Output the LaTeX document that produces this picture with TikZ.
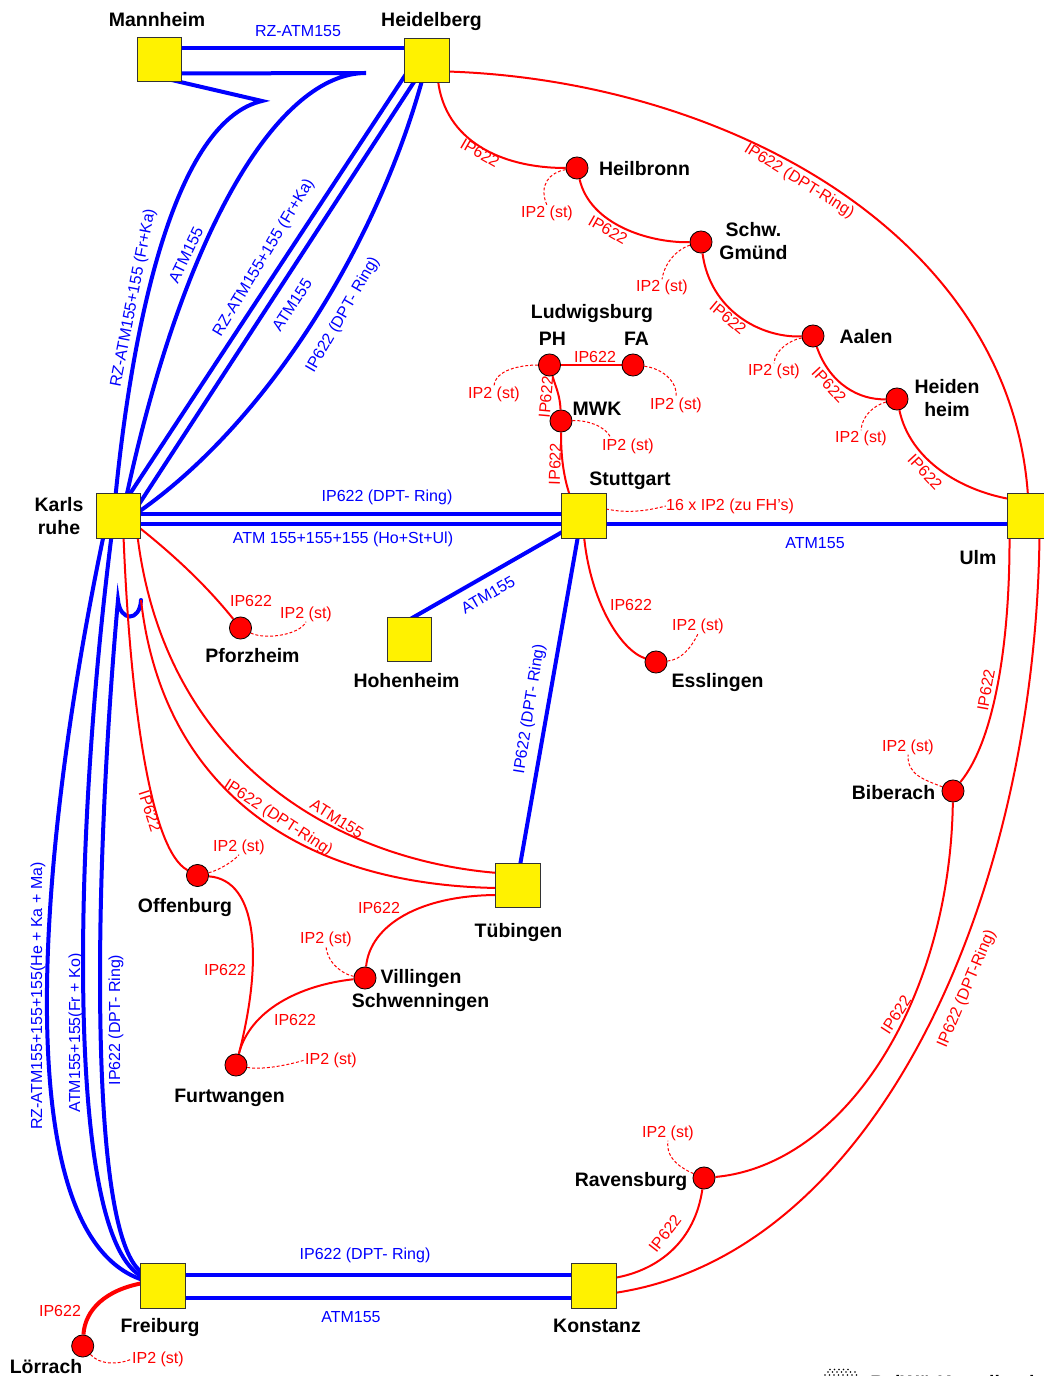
\documentclass[tikz,border=0pt]{standalone}
\usepackage{fontspec}
\setmainfont{Liberation Sans}
\usetikzlibrary{backgrounds}
\usetikzlibrary{calc}

\begin{document}
\begin{tikzpicture}[x=0.75pt, y=-0.75pt,
    site/.style={draw=black!80, line width=0.6pt, fill=yellow, rectangle, minimum size=33.2pt, inner sep=0pt},
    stop/.style={draw=black, line width=0.6pt, fill=red, circle, minimum size=16.6pt, inner sep=0pt},
    city/.style={font=\fontsize{14.6}{17.6}\selectfont\bfseries, align=center, text=black, inner sep=0pt},
    bluelab/.style={xshift=0.75pt, yshift=-0.75pt, font=\fontsize{12}{14}\selectfont, text=blue, inner sep=0pt},
    redlab/.style={xshift=0.75pt, yshift=-0.75pt, font=\fontsize{12}{14}\selectfont, text=red, inner sep=0pt},
    thick blue/.style={draw=blue, line width=3pt, line cap=round},
    thin red/.style={draw=red, line width=1.5pt},
    lead/.style={draw=red, line width=0.75pt, dash pattern=on 2.2pt off 1.5pt}]

\clip (0,0) rectangle (1044,1376);

% sites
\node[site] (ma) at (159.5,59.5) {};
\node[site] (hd) at (427,60.5) {};
\node[site] (ka) at (118.5,516) {};
\node[site] (st) at (584,516) {};
\node[site] (ul) at (1029.5,516) {};
\node[site] (ho) at (409.5,639.5) {};
\node[site] (tu) at (518,885.5) {};
\node[site] (fr) at (163,1286) {};
\node[site] (ko) at (594,1286) {};

% stops
\node[stop] (hn) at (577,168) {};
\node[stop] (gm) at (701,242) {};
\node[stop] (aa) at (813,336) {};
\node[stop] (hh) at (897,399) {};
\node[stop] (ph) at (549.5,365) {};
\node[stop] (fa) at (633,365) {};
\node[stop] (mw) at (561,421) {};
\node[stop] (pf) at (240.5,628) {};
\node[stop] (es) at (656,662) {};
\node[stop] (bi) at (953,791) {};
\node[stop] (of) at (197.5,875.5) {};
\node[stop] (vi) at (365,978) {};
\node[stop] (fu) at (236,1065) {};
\node[stop] (ra) at (704,1178) {};
\node[stop] (lo) at (82.7,1346) {};

% free ends
\coordinate (kma) at (366,73);
\coordinate (kmb) at (262,101);
\coordinate (kfr) at (118,600);
\coordinate (ktu) at (141,600);

% city names
\node[city] (nma) at (157,20) {Mannheim};
\node[city] (nhd) at (431.5,22) {Heidelberg};
\node[city] (nhn) at (644.5,169) {Heilbronn};
\node[city] (ngm) at (753.5,241) {Schw.\\Gmünd};
\node[city] (naa) at (866,337) {Aalen};
\node[city] (nhh) at (947,398) {Heiden\\heim};
\node[city] (nlu) at (592,314) {Ludwigsburg};
\node[city] (nph) at (552.5,339) {PH};
\node[city] (nfa) at (636.5,339) {FA};
\node[city] (nmw) at (597,409) {MWK};
\node[city] (nst) at (630,481) {Stuttgart};
\node[city] (nka) at (59,516) {Karls\\ruhe};
\node[city] (nul) at (978,558) {Ulm};
\node[city] (npf) at (252.5,656) {Pforzheim};
\node[city] (nho) at (406.5,681) {Hohenheim};
\node[city] (nes) at (717.5,683) {Esslingen};
\node[city] (nbi) at (893.5,793) {Biberach};
\node[city] (nof) at (185,907) {Offenburg};
\node[city] (ntu) at (518.5,932) {Tübingen};
\node[city] (nvi) at (421,978) {Villingen};
\node[city] (nsw) at (420.5,1002) {Schwenningen};
\node[city] (nfu) at (229.5,1098) {Furtwangen};
\node[city] (nra) at (631,1181) {Ravensburg};
\node[city] (nfr) at (160,1327) {Freiburg};
\node[city] (nko) at (597,1326) {Konstanz};
\node[city] (nlo) at (46,1367) {Lörrach};
\node[city, anchor=west] (nbw) at (870,1383) {BelWü-Koordination};

% blue labels
\node[bluelab] (b1) at (297,30) {RZ-ATM155};
\node[bluelab, rotate=79] (b2) at (132.5,297) {RZ-ATM155+155 (Fr+Ka)};
\node[bluelab, rotate=64] (b3) at (185,254) {ATM155};
\node[bluelab, rotate=59] (b4) at (263,257) {RZ-ATM155+155 (Fr+Ka)};
\node[bluelab, rotate=57] (b5) at (291,304) {ATM155};
\node[bluelab, rotate=60] (b6) at (342,314) {IP622 (DPT- Ring)};
\node[bluelab] (b7) at (386,496) {IP622 (DPT- Ring)};
\node[bluelab] (b8) at (342,538) {ATM 155+155+155 (Ho+St+Ul)};
\node[bluelab, rotate=30] (b9) at (487,594) {ATM155};
\node[bluelab] (b10) at (814,542) {ATM155};
\node[bluelab, rotate=81] (b11) at (529,708) {IP622 (DPT- Ring)};
\node[bluelab, rotate=90] (b12) at (37,995) {RZ-ATM155+155+155(He + Ka + Ma)};
\node[bluelab, rotate=90] (b13) at (75,1032) {ATM155+155(Fr + Ko)};
\node[bluelab, rotate=90] (b14) at (115,1019) {IP622 (DPT- Ring)};
\node[bluelab] (b15) at (364,1254) {IP622 (DPT- Ring)};
\node[bluelab] (b16) at (350,1316) {ATM155};

% red labels
\node[redlab, rotate=-30] (r1) at (479,152) {IP622};
\node[redlab, rotate=-30] (r2) at (607,229) {IP622};
\node[redlab, rotate=-32] (r3) at (798,180) {IP622 (DPT-Ring)};
\node[redlab, rotate=-40] (r4) at (727,317) {IP622};
\node[redlab, rotate=-47] (r5) at (828,384) {IP622};
\node[redlab, rotate=-47] (r6) at (924,471) {IP622};
\node[redlab] (r7) at (594,356) {IP622};
\node[redlab, rotate=85] (r8) at (545,396) {IP622};
\node[redlab, rotate=88] (r9) at (554,463) {IP622};
\node[redlab] (r10) at (250,600) {IP622};
\node[redlab] (r11) at (630,604) {IP622};
\node[redlab, rotate=80] (r12) at (985,689) {IP622};
\node[redlab, rotate=-72] (r13) at (149,810) {IP622};
\node[redlab, rotate=-32] (r14) at (336,818) {ATM155};
\node[redlab, rotate=-33] (r15) at (277,817) {IP622 (DPT-Ring)};
\node[redlab] (r16) at (378,907) {IP622};
\node[redlab] (r17) at (224,969) {IP622};
\node[redlab] (r18) at (294,1019) {IP622};
\node[redlab, rotate=57] (r19) at (895,1014) {IP622};
\node[redlab, rotate=67] (r20) at (966,988) {IP622 (DPT-Ring)};
\node[redlab, rotate=52] (r21) at (664,1233) {IP622};
\node[redlab] (r22) at (59,1310) {IP622};

% IP2 labels
\node[redlab] (ihn) at (546,212) {IP2 (st)};
\node[redlab] (igm) at (661,286) {IP2 (st)};
\node[redlab] (iaa) at (773,370) {IP2 (st)};
\node[redlab] (ihh) at (860,437) {IP2 (st)};
\node[redlab] (iph) at (493,393) {IP2 (st)};
\node[redlab] (ifa) at (675,404) {IP2 (st)};
\node[redlab] (imw) at (627,445) {IP2 (st)};
\node[redlab] (ist) at (729,505) {16 x IP2 (zu FH's)};
\node[redlab] (ipf) at (305,613) {IP2 (st)};
\node[redlab] (ies) at (697,625) {IP2 (st)};
\node[redlab] (ibi) at (907,746) {IP2 (st)};
\node[redlab] (ira) at (667,1132) {IP2 (st)};
\node[redlab] (iof) at (238,846) {IP2 (st)};
\node[redlab] (ivi) at (325,938) {IP2 (st)};
\node[redlab] (ifu) at (330,1059) {IP2 (st)};
\node[redlab] (ilo) at (157,1358) {IP2 (st)};

% logo dots
\foreach \y/\xa/\xb/\xc in {1369.5/830/834.5/852,1372/828/832.5/856,1375/825/829.5/857}
  \foreach \x in {\xa,\xb,...,\xc}
    \fill[black] (\x,\y) circle (0.9);

\begin{scope}[on background layer]
% blue lines, north
\draw[thick blue] ([shift={(20,-11.5)}]ma.center) -- ([shift={(-20,-12.5)}]hd.center);
\draw[thick blue] ([shift={(20,14)}]ma.center) -- (kma) .. controls (280,73) and (185,225) .. ([shift={(8,-20)}]ka.center);
\draw[thick blue] ([shift={(10,20)}]ma.center) -- (kmb) .. controls (180,120) and (135,300) .. ([shift={(-3,-20)}]ka.center);
\draw[thick blue] ([shift={(-20,12)}]hd.center) -- ([shift={(10,-20)}]ka.center);
\draw[thick blue] ([shift={(-12,20)}]hd.center) -- ([shift={(20,-11)}]ka.center);
\draw[thick blue] ([shift={(-5,20)}]hd.center) .. controls (378,240) and (270,420) .. ([shift={(20,-4)}]ka.center);

% blue lines, middle
\draw[thick blue] ([shift={(20,-2.5)}]ka.center) -- ([shift={(-20,-2.5)}]st.center);
\draw[thick blue] ([shift={(20,8)}]ka.center) -- ([shift={(-20,8)}]st.center);
\draw[thick blue] ([shift={(20,8)}]st.center) -- ([shift={(-20,8)}]ul.center);
\draw[thick blue] ([shift={(-20,15)}]st.center) -- ([shift={(0,-20)}]ho.center);
\draw[thick blue] ([shift={(-6,20)}]st.center) -- ([shift={(2,-20)}]tu.center);

% blue lines, south
\draw[thick blue] ([shift={(-15,20)}]ka.center) .. controls (38,850) and (5,1235) .. ([shift={(-20,-6)}]fr.center);
\draw[thick blue] ([shift={(-7,20)}]ka.center) .. controls (72,850) and (66,1240) .. ([shift={(-20,-9)}]fr.center);
\draw[thick blue] (ktu) .. controls (140,622) and (120,622) .. (kfr) .. controls (93,880) and (88,1240) .. ([shift={(-20,-13)}]fr.center);
\draw[thick blue] ([shift={(20,-11)}]fr.center) -- ([shift={(-20,-11)}]ko.center);
\draw[thick blue] ([shift={(20,11.5)}]fr.center) -- ([shift={(-20,11.5)}]ko.center);

% red lines, ring
\draw[thin red] ([shift={(11,20)}]hd.center) .. controls (445,140) and (500,168) .. (hn);
\draw[thin red] (hn) .. controls (590,225) and (650,243) .. (gm);
\draw[thin red] (gm) .. controls (710,310) and (760,338) .. (aa);
\draw[thin red] (aa) .. controls (830,385) and (860,400) .. (hh);
\draw[thin red] (hh) .. controls (910,460) and (960,490) .. ([shift={(-20,-17)}]ul.center);
\draw[thin red] ([shift={(20,11)}]hd.center) .. controls (720,80) and (1010,230) .. ([shift={(-1.5,-20)}]ul.center);
\draw[thin red] (ph) -- (fa);
\draw[thin red] (ph) .. controls (555,385) and (560,395) .. (mw);
\draw[thin red] (mw) .. controls (561,455) and (563,475) .. ([shift={(-14,-20)}]st.center);

% red lines, east
\draw[thin red] ([shift={(0,20)}]st.center) .. controls (590,600) and (620,650) .. (es);
\draw[thin red] ([shift={(-20,20)}]ul.center) .. controls (1010,640) and (995,740) .. (bi);
\draw[thin red] (bi) .. controls (950,1000) and (845,1165) .. (ra);
\draw[thin red] ([shift={(10,20)}]ul.center) .. controls (1035,900) and (875,1255) .. ([shift={(20,7)}]ko.center);
\draw[thin red] (ra) .. controls (695,1240) and (660,1270) .. ([shift={(20,-8)}]ko.center);

% red lines, west
\draw[thin red] ([shift={(20,11)}]ka.center) .. controls (180,560) and (210,590) .. (pf);
\draw[thin red] ([shift={(5,20)}]ka.center) .. controls (130,700) and (150,850) .. (of);
\draw[thin red] ([shift={(19,20)}]ka.center) .. controls (165,760) and (335,860) .. ([shift={(-20,-12.5)}]tu.center);
\draw[thin red] (ktu) .. controls (162,785) and (295,885) .. ([shift={(-20,2.5)}]tu.center);
\draw[thin red] (of) .. controls (258,880) and (263,960) .. (fu);
\draw[thin red] (fu) .. controls (250,1010) and (300,985) .. (vi);
\draw[thin red] (vi) .. controls (370,925) and (420,895) .. ([shift={(-20,9.5)}]tu.center);
\draw[draw=red, line width=3pt] ([shift={(-20,-3)}]fr.center) .. controls (105,1290) and (85,1310) .. (lo);

% IP2 leaders
\draw[lead] (hn) .. controls (550,172) and (538,185) .. (ihn.north);
\draw[lead] (gm) .. controls (680,248) and (665,260) .. (igm.north);
\draw[lead] (aa) .. controls (790,340) and (775,350) .. (iaa.north);
\draw[lead] (hh) .. controls (875,405) and (862,415) .. (ihh.north);
\draw[lead] (ph) .. controls (520,365) and (495,370) .. (iph.north);
\draw[lead] (fa) .. controls (660,368) and (678,380) .. (ifa.north);
\draw[lead] (mw) .. controls (585,420) and (605,425) .. ([shift={(-17,-8)}]imw.center);
\draw[lead] ([shift={(22,-7)}]st.center) .. controls (630,514) and (650,510) .. (ist.west);
\draw[lead] (pf) .. controls (265,640) and (300,635) .. (ipf.south);
\draw[lead] (es) .. controls (680,660) and (690,650) .. (ies.south);
\draw[lead] (bi) .. controls (925,780) and (907,775) .. (ibi.south);
\draw[lead] (ra) .. controls (685,1170) and (665,1160) .. (ira.south);
\draw[lead] (of) .. controls (220,870) and (235,860) .. (iof.south);
\draw[lead] (vi) .. controls (345,975) and (328,965) .. (ivi.south);
\draw[lead] (fu) .. controls (260,1070) and (285,1066) .. (ifu.west);
\draw[lead] (lo) .. controls (100,1365) and (118,1365) .. (ilo.west);
\end{scope}
\end{tikzpicture}
\end{document}
